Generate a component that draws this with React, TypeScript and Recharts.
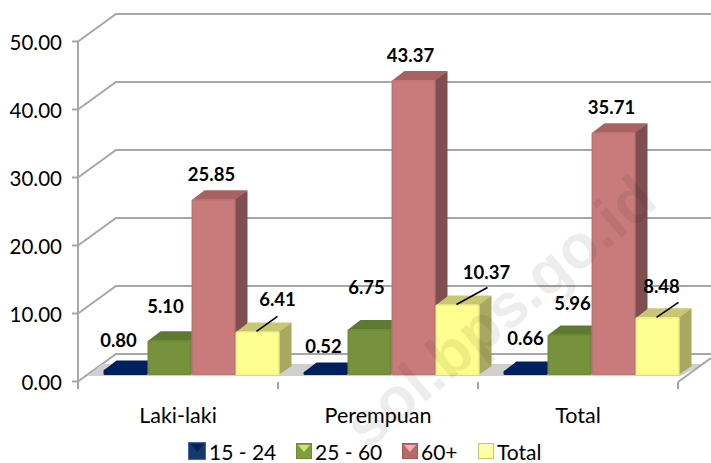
import { BarChart, Bar, XAxis, YAxis, CartesianGrid, Legend, LabelList } from 'recharts';

const categories = ['Laki-laki', 'Perempuan', 'Total'];
const age15to24 = [0.8, 0.52, 0.66];
const age25to60 = [5.1, 6.75, 5.96];
const age60plus = [25.85, 43.37, 35.71];
const ageTotal = [6.41, 10.37, 8.48];
const yTicks = [0, 10, 20, 30, 40, 50];

const chartData = categories.map((name, i) => ({
  name,
  a: age15to24[i],
  b: age25to60[i],
  c: age60plus[i],
  d: ageTotal[i],
}));

const FONT = 'Lato, "Open Sans", sans-serif';
const GRID = '#a6a6a6';
// fake 3d: the depth of the bars, and the shift from the front plane to the walls
const DEPTH_X = 13;
const DEPTH_Y = 9;

const palette: Record<string, { front: string; top: string; side: string }> = {
  a: { front: '#00205f', top: '#00205f', side: '#00205f' },
  b: { front: '#76923c', top: '#5e7a30', side: '#5a7230' },
  c: { front: '#c97b7b', top: '#a86262', side: '#7f4f4f' },
  d: { front: '#ffff8f', top: '#c8c873', side: '#a8a862' },
};

// label nudges from the bar centre / top, per series and category
const labelShift: Record<string, [number, number][]> = {
  a: [[-7, -30], [-2, -25], [0, -33]],
  b: [[-4, -34], [-3, -42], [3, -31]],
  c: [[-2, -25], [-3, -25], [-2, -25]],
  d: [[20, -32], [29, -32], [4, -31]],
};
const leaders: Record<string, [number, number][]> = {
  d: [[20, -15], [30, -17], [21, -15]],
};

const Bar3D = ({ x, y, width, height, dataKey }: any) => {
  const c = palette[dataKey];
  return (
    <g>
      <path
        d={`M${x + width - 1},${y} l${DEPTH_X},${-DEPTH_Y} v${height} l${-DEPTH_X},${DEPTH_Y} z`}
        fill={c.side}
      />
      <path
        d={`M${x},${y + 1} l${DEPTH_X},${-DEPTH_Y - 1} h${width - 1} l${-DEPTH_X},${DEPTH_Y + 1} z`}
        fill={c.top}
      />
      <rect x={x} y={y} width={width} height={height} rx={1.5} fill={c.front} />
      <rect x={x + 1} y={y + 1} width={width - 2} height={Math.max(height - 2, 0)} rx={1.5} fill="none" stroke="#000" strokeOpacity={0.06} />
    </g>
  );
};

const makeLabel = (key: string) => (props: any) => {
  const { x, y, width, value, index } = props;
  const cx = x + width / 2;
  const [dx, dy] = labelShift[key][index];
  const leader = leaders[key]?.[index];
  return (
    <g>
      {leader && (
        <line x1={cx - 1} y1={y} x2={cx + leader[0]} y2={y + leader[1]} stroke="#000" strokeWidth={1.6} />
      )}
      <text x={cx + dx} y={y + dy} textAnchor="middle" dominantBaseline="central" fontFamily={FONT} fontSize={18.5} fontWeight={700} fill="#000">
        {Number(value).toFixed(2)}
      </text>
    </g>
  );
};

// each grid line runs up the left wall, then along the back wall
const WallLine = (props: any) => {
  const { x1, y1, index } = props;
  return (
    <path
      key={index}
      d={`M${x1 - 14},${y1 + 6.5} L${x1 + 24},${y1 - 21} H711`}
      fill="none"
      stroke={GRID}
      strokeWidth={2}
    />
  );
};

const YTick = ({ y, payload }: any) => (
  <g>
    <line x1={72} x2={78} y1={y + 6.5} y2={y + 6.5} stroke={GRID} strokeWidth={2} />
    <text x={62} y={y + 6.5} textAnchor="end" dominantBaseline="central" fontFamily={FONT} fontSize={20.5} fill="#000">
      {Number(payload.value).toFixed(2)}
    </text>
  </g>
);

const XTick = ({ x, payload, index }: any) => (
  <g>
    <line x1={x - 114} x2={x - 114} y1={382} y2={389} stroke={GRID} strokeWidth={2} />
    {index === categories.length - 1 && (
      <line x1={x + 86} x2={x + 86} y1={382} y2={389} stroke={GRID} strokeWidth={2} />
    )}
    <text x={x - 14} y={415} textAnchor="middle" dominantBaseline="central" fontFamily={FONT} fontSize={21.5} fill="#000">
      {payload.value}
    </text>
  </g>
);

const legendIcons: Record<string, { size: number; base: string; tip: string; edge: string }> = {
  '15 - 24': { size: 18, base: '#17386f', tip: '#0b2350', edge: '#3f66a8' },
  '25 - 60': { size: 16, base: '#7f9f3f', tip: '#c9e46a', edge: '#6d8a34' },
  '60+': { size: 16, base: '#b56a6a', tip: '#f0b0b0', edge: '#a05c5c' },
  Total: { size: 16, base: '#ffff99', tip: '#ffffc8', edge: '#c4c47a' },
};

const LegendContent = ({ payload }: any) => (
  <div style={{ position: 'relative', height: 24, fontFamily: FONT, fontSize: 21, color: '#000' }}>
    {(payload || []).map((entry: any, i: number) => {
      const icon = legendIcons[entry.value];
      const left = [188, 296, 402, 478][i];
      return (
        <div key={entry.value} style={{ position: 'absolute', left, top: 0, display: 'flex', alignItems: 'center', height: 24 }}>
          <svg width={icon.size} height={icon.size} style={{ marginRight: 3 }}>
            <rect x={0.5} y={0.5} width={icon.size - 1} height={icon.size - 1} fill={icon.base} stroke={icon.edge} />
            <path d={`M2,2 H${icon.size - 2} L${icon.size / 2},${icon.size / 2 + 1} Z`} fill={icon.tip} />
          </svg>
          <span style={{ whiteSpace: 'nowrap' }}>{entry.value}</span>
        </div>
      );
    })}
  </div>
);

const series = [
  { key: 'a', name: '15 - 24' },
  { key: 'b', name: '25 - 60' },
  { key: 'c', name: '60+' },
  { key: 'd', name: 'Total' },
];

export default function App() {
  return (
    <div style={{ position: 'fixed', left: 0, top: 0, width: 711, height: 463, background: '#fff', overflow: 'hidden' }}>
      <BarChart
        width={711}
        height={463}
        data={chartData}
        margin={{ top: 35, right: 19, left: 32, bottom: 24 }}
        barCategoryGap={11.5}
        barGap={0}
      >
        <CartesianGrid vertical={false} horizontal={WallLine as any} />
        {/* floor and front corner of the box */}
        <g>
          <path d="M88,376 L102,364 H704 L680,376 Z" fill="#cfcfcf" />
          <path d="M78,382 V41" stroke={GRID} strokeWidth={2} fill="none" />
          <path d="M678,382 L711,358" stroke={GRID} strokeWidth={2} fill="none" />
        </g>
        <XAxis dataKey="name" axisLine={false} tickLine={false} tick={XTick as any} height={40} interval={0} />
        <YAxis domain={[0, 50]} ticks={yTicks} axisLine={false} tickLine={false} tick={YTick as any} width={60} />
        <Legend content={LegendContent as any} verticalAlign="bottom" wrapperStyle={{ left: 0, bottom: 0, width: 711 }} />
        {series.map((s) => (
          <Bar key={s.key} dataKey={s.key} name={s.name} fill={palette[s.key].front} shape={<Bar3D dataKey={s.key} />} isAnimationActive={false}>
            <LabelList dataKey={s.key} content={makeLabel(s.key) as any} />
          </Bar>
        ))}
      </BarChart>
      <svg width={711} height={463} style={{ position: 'absolute', left: 0, top: 0, pointerEvents: 'none' }}>
        <text
          x={660}
          y={205}
          transform="rotate(-40 660 205)"
          textAnchor="end"
          fontFamily='"Liberation Sans", sans-serif'
          fontWeight={700}
          fontSize={62}
          fill="#000"
          fillOpacity={0.07}
        >
          sol.bps.go.id
        </text>
      </svg>
    </div>
  );
}
